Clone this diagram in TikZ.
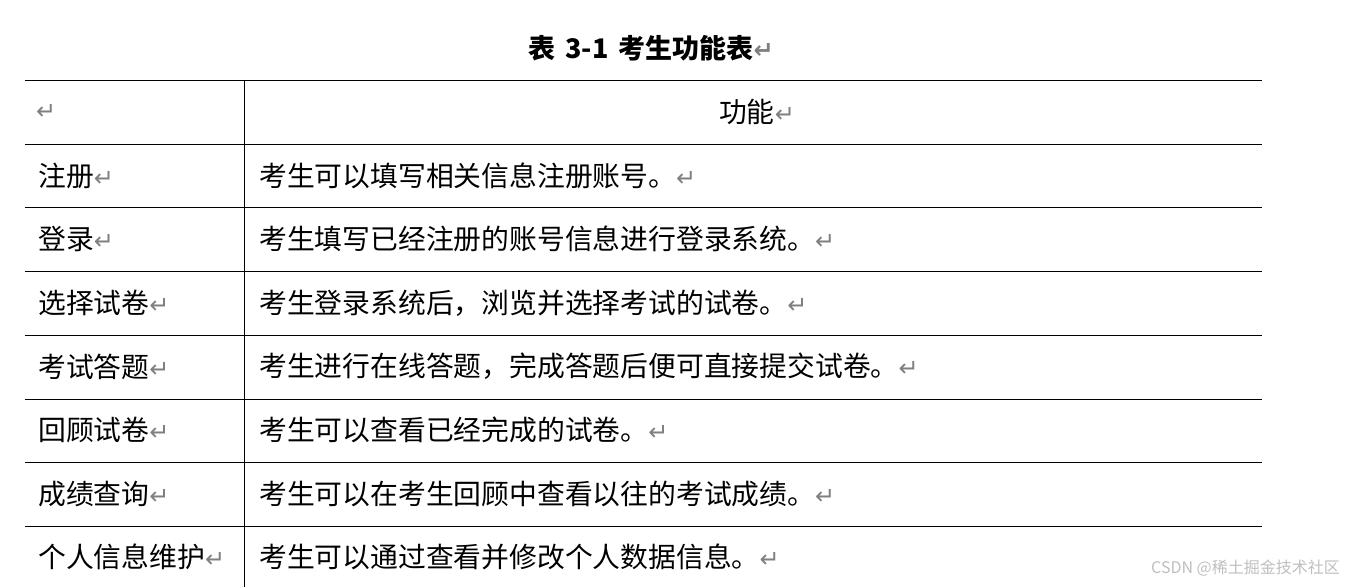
\documentclass[tikz,border=0pt]{standalone}
\usepackage{fontspec}
\newfontfamily\cjk{Noto Sans CJK SC}
\newfontfamily\dv{DejaVu Sans}
\begin{document}
\begin{tikzpicture}[x=1pt,y=-1pt,
  cell/.style={anchor=west,inner sep=0pt,font=\cjk\fontsize{27.8}{28}\selectfont},
  rl/.style={line width=0.8pt}]
\useasboundingbox (0,0) rectangle (1346,587);
\newcommand\rt{{\color{gray}\dv\fontsize{24}{24}\selectfont ↵}}
\node[inner sep=0pt,font=\cjk\bfseries\fontsize{27}{27}\selectfont] (title) at (651,48) {表\hspace{10pt}3-1\hspace{10pt}考生功能表\rt};
\foreach \y in {80,144,207,271,335,399,462,526} \draw[rl] (25,\y) -- (1262,\y);
\draw[rl] (244,80) -- (244,587);
\node[cell] (h0) at (36,112) {\rt};
\node[inner sep=0pt,font=\cjk\fontsize{27.8}{28}\selectfont] (h1) at (757,112) {功能\rt};
\foreach \a/\b [count=\i] in {注册/考生可以填写相关信息注册账号。,登录/考生填写已经注册的账号信息进行登录系统。,选择试卷/{考生登录系统后，浏览并选择考试的试卷。},考试答题/{考生进行在线答题，完成答题后便可直接提交试卷。},回顾试卷/考生可以查看已经完成的试卷。,成绩查询/考生可以在考生回顾中查看以往的考试成绩。,个人信息维护/考生可以通过查看并修改个人数据信息。}{
  \pgfmathsetmacro\yy{112+63.6*\i}
  \node[cell] (a\i) at (38,\yy) {\a\rt};
  \node[cell] (b\i) at (259,\yy) {\b\rt};
}
\node[anchor=east,inner sep=0pt,text=gray!50,font=\cjk\fontsize{16}{16}\selectfont] (wm) at (1340,568) {CSDN @稀土掘金技术社区};
\end{tikzpicture}
\end{document}
